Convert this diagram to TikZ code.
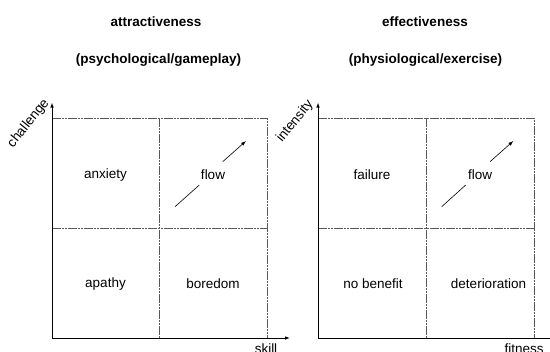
\documentclass[tikz,border=0pt]{standalone}
\usepackage{fontspec}
\setmainfont{Liberation Sans}
\usetikzlibrary{arrows.meta}
\begin{document}
\begin{tikzpicture}[x=1bp,y=-1bp,
  every node/.style={font=\fontsize{13.5bp}{16bp}\selectfont, inner sep=0pt},
  title/.style={font=\fontsize{13.5bp}{16bp}\selectfont\bfseries, anchor=base},
  axis/.style={line width=0.9bp, black, -{Latex[length=5bp,width=3.6bp]}},
  gridline/.style={line width=0.6bp, black!65, dash pattern=on 2.6bp off 0.6bp},
  flowarrow/.style={line width=0.6bp, black},
  axislabel/.style={rotate=51, anchor=center}]
\useasboundingbox (0,0) rectangle (550,351);
\clip (0,0) rectangle (550,351);
% titles
\node[title] (t1) at (156,26) {attractiveness};
\node[title] (t2) at (158.5,63) {(psychological/gameplay)};
\node[title] (t3) at (425,26) {effectiveness};
\node[title] (t4) at (425.5,63) {(physiological/exercise)};
% ---------- left panel ----------
\coordinate (LO) at (52,338);
\coordinate (LY) at (52,102.5);
\coordinate (LX) at (290,338);
\coordinate (LTL) at (52,118);
\coordinate (LTR) at (267,118);
\coordinate (LBR) at (267,338);
\coordinate (LMT) at (159.5,118);
\coordinate (LMB) at (159.5,338);
\coordinate (LML) at (52,228);
\coordinate (LMR) at (267,228);
\draw[gridline] (LTL) -- (LTR) -- (LBR);
\draw[gridline] (LMT) -- (LMB);
\draw[gridline] (LML) -- (LMR);
\draw[axis] (LO) -- (LY);
\draw[axis] (LO) -- (LX);
\node[axislabel] (lch) at (28.5,123.5) {challenge};
\node[anchor=base] (lsk) at (266,353) {skill};
\node (anx) at (105.5,175) {anxiety};
\node (flowL) at (213,175) {flow};
\node (apa) at (105.5,284) {apathy};
\node (bor) at (213,284) {boredom};
\coordinate (fLa) at (175,206.7);
\coordinate (fLb) at (199.3,185);
\coordinate (fLc) at (222.7,161.7);
\coordinate (fLd) at (246,141);
\draw[flowarrow] (fLa) -- (fLb);
\draw[flowarrow, -{Latex[length=5bp,width=3.6bp]}] (fLc) -- (fLd);
% ---------- right panel ----------
\coordinate (RO) at (318,338);
\coordinate (RY) at (318,102.5);
\coordinate (RX) at (556,338);
\coordinate (RTL) at (318,118);
\coordinate (RTR) at (534,118);
\coordinate (RBR) at (534,338);
\coordinate (RMT) at (426.5,118);
\coordinate (RMB) at (426.5,338);
\coordinate (RML) at (318,228);
\coordinate (RMR) at (534,228);
\draw[gridline] (RTL) -- (RTR) -- (RBR);
\draw[gridline] (RMT) -- (RMB);
\draw[gridline] (RML) -- (RMR);
\draw[axis] (RO) -- (RY);
\draw[axis] (RO) -- (RX);
\node[axislabel] (rin) at (295,121.5) {intensity};
\node[anchor=base] (rfi) at (524,353) {fitness};
\node (fai) at (372,175) {failure};
\node (flowR) at (480,175) {flow};
\node (nob) at (373,284) {no benefit};
\node (det) at (488.5,284) {deterioration};
\coordinate (fRa) at (441.7,206.7);
\coordinate (fRb) at (465.7,185);
\coordinate (fRc) at (490,161.7);
\coordinate (fRd) at (513.3,141);
\draw[flowarrow] (fRa) -- (fRb);
\draw[flowarrow, -{Latex[length=5bp,width=3.6bp]}] (fRc) -- (fRd);
\end{tikzpicture}
\end{document}
